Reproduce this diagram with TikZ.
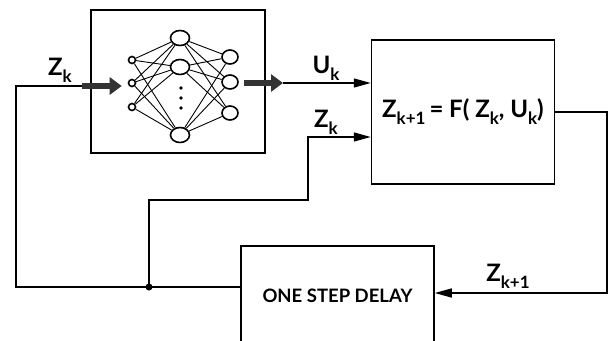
\documentclass[tikz,border=0pt]{standalone}
\usepackage{fontspec}
\setmainfont{Lato}
\usetikzlibrary{arrows.meta,positioning,shapes.geometric}
\newcommand{\idx}[1]{\raisebox{-7pt}{\fontsize{17}{17}\selectfont #1}}

\begin{document}
\begin{tikzpicture}[x=1pt,y=-1pt,
  blk/.style={draw,line width=1.5pt,inner sep=0pt},
  neu/.style={draw,ellipse,line width=1.6pt,inner sep=0pt},
  ar/.style={-{Triangle[length=17pt,width=9pt]},line width=1.4pt},
  fat/.style={-{Triangle[length=12pt,width=17pt]},line width=6pt,gray!40!black},
  lbl/.style={font=\fontsize{24}{26}\selectfont\bfseries}]
\clip (0,0) rectangle (613,340);
% blocks
\node[blk,minimum width=174pt,minimum height=143pt] (nn) at (178,81.5) {};
\node[blk,minimum width=183pt,minimum height=144pt,lbl] (plant) at (463,112) {Z\idx{k+1}\,= F( Z\idx{k}, U\idx{k})};
\node[blk,minimum width=193pt,minimum height=100pt,font=\fontsize{18.5}{20}\selectfont\bfseries] (delay) at (337.5,296) {ONE STEP DELAY};
% network
\node[neu,minimum width=7pt,minimum height=7pt] (i1) at (132,60) {};
\node[neu,minimum width=7pt,minimum height=7pt] (i2) at (132,83) {};
\node[neu,minimum width=7pt,minimum height=7pt] (i3) at (132,107) {};
\node[neu,minimum width=19pt,minimum height=15pt] (h1) at (180,38) {};
\node[neu,minimum width=19pt,minimum height=15pt] (h2) at (180,67) {};
\node[neu,minimum width=19pt,minimum height=15pt] (h4) at (180,135) {};
\node[neu,minimum width=16pt,minimum height=14pt] (o1) at (230,57) {};
\node[neu,minimum width=16pt,minimum height=14pt] (o2) at (230,82) {};
\node[neu,minimum width=16pt,minimum height=14pt] (o3) at (230,113) {};
\foreach \a in {i1,i2,i3} \foreach \b in {h1,h2,h4} \draw[line width=0.9pt] (\a) -- (\b);
\foreach \a in {h1,h2,h4} \foreach \b in {o1,o2,o3} \draw[line width=0.9pt] (\a) -- (\b);
\foreach \y in {88,98,108} \fill (181,\y) circle (1.8pt);
% labels
\node[lbl] (lzk) at (60,70) {Z\idx{k}};
\node[lbl] (luk) at (326,68) {U\idx{k}};
\node[lbl] (lzkb) at (326,122) {Z\idx{k}};
\node[lbl] (lzkn) at (508,276) {Z\idx{k+1}};
% signal lines
\coordinate (zin) at (82,86);
\coordinate (uout) at (283,83);
\coordinate (jn) at (149,287);
\coordinate (lc) at (16,287);
\coordinate (bend) at (308,200);
\coordinate (zup) at (308,137);
\coordinate (rc) at (607,293);
\draw[fat] (zin) -- ([xshift=-6pt]i2.west |- zin);
\draw[fat] ([xshift=5pt]o2.east |- uout) -- (uout);
\draw[ar] (uout) -- (uout -| plant.west);
\draw[ar] (plant.east) -| (rc) -- (rc -| delay.east);
\draw[line width=1.4pt] (delay.west |- jn) -- (jn) -- (lc) |- (zin);
\draw[ar] (jn) |- (bend) -- (zup) -- (zup -| plant.west);
\fill (jn) circle (3.5pt);
\end{tikzpicture}
\end{document}
